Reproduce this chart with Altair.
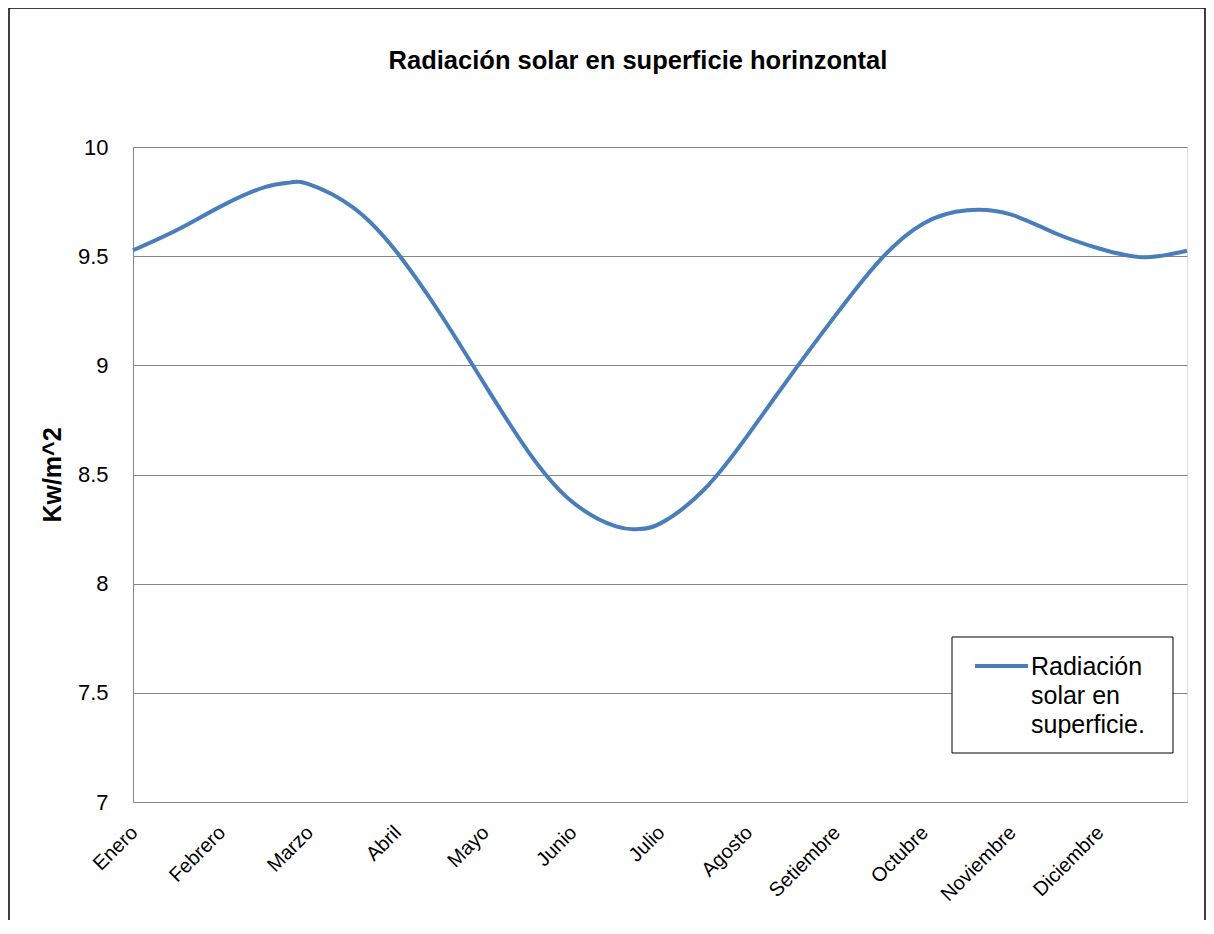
import altair as alt
import pandas as pd

months = ["Enero", "Febrero", "Marzo", "Abril", "Mayo", "Junio", "Julio",
          "Agosto", "Setiembre", "Octubre", "Noviembre", "Diciembre"]
pos = [0, 0.5, 1.0, 1.5, 1.8, 2.0, 2.5, 3.0, 3.5, 4.0, 4.5, 5.0, 5.5, 5.75, 6.0,
       6.5, 7.0, 7.5, 8.0, 8.5, 9.0, 9.5, 10.0, 10.5, 11.0, 11.5, 12.0]
rad = [9.527, 9.62, 9.728, 9.816, 9.838, 9.83, 9.725, 9.52, 9.235, 8.915, 8.605, 8.375,
       8.262, 8.25, 8.275, 8.43, 8.68, 8.96, 9.23, 9.48, 9.65, 9.71, 9.69, 9.605,
       9.535, 9.495, 9.525]
legend_lines = ["Radiación", "solar en", "superficie."]
title_text = "Radiación solar en superficie horinzontal"

df = pd.DataFrame({"pos": pos, "rad": rad})
one = pd.DataFrame({"a": [0]})

FONT = "Liberation Sans"
BLUE = "#4a7ebb"
W, H = 1054, 655

label_expr = "[" + ",".join(f"'{m}'" for m in months) + "][datum.value]"

line = alt.Chart(df).mark_line(interpolate="natural", strokeWidth=4, color=BLUE).encode(
    x=alt.X("pos:Q", scale=alt.Scale(domain=[0, 12], nice=False, zero=False),
            axis=alt.Axis(values=list(range(12)), labelExpr=label_expr, labelAngle=-45,
                          labelAlign="right", labelBaseline="top", labelFontSize=20,
                          labelPadding=20, labelOffset=-6, ticks=False, grid=False,
                          domain=True, domainColor="#868686", title=None,
                          labelColor="#000000", labelFont=FONT, labelOverlap=False)),
    y=alt.Y("rad:Q", scale=alt.Scale(domain=[7, 10], nice=False, zero=False),
            axis=alt.Axis(values=[7, 7.5, 8, 8.5, 9, 9.5, 10], labelExpr="datum.value",
                          title="Kw/m^2", titleFontSize=25, titleFontWeight="bold",
                          titleFont=FONT, titleColor="#000000", titleX=-81, titleY=H / 2,
                          titleBaseline="middle", titleAlign="center",
                          labelFontSize=22, labelFont=FONT, labelColor="#000000",
                          labelPadding=25, ticks=False, grid=True, gridColor="#868686",
                          gridWidth=1, domain=True, domainColor="#868686")),
)

border = alt.Chart(one).mark_rect(fill=None, stroke="#000000", strokeWidth=1.5).encode(
    x=alt.value(-124), x2=alt.value(W + 18), y=alt.value(-139), y2=alt.value(H + 200))

title = alt.Chart(one).mark_text(text=title_text, font=FONT, fontSize=25.5, fontWeight="bold",
                                 color="#000000", align="center", baseline="alphabetic").encode(
    x=alt.value(505), y=alt.value(-78))

legend_box = alt.Chart(one).mark_rect(fill="#ffffff", stroke="#000000", strokeWidth=1).encode(
    x=alt.value(819), x2=alt.value(1040), y=alt.value(490), y2=alt.value(606))

legend_sym = alt.Chart(one).mark_rule(color=BLUE, strokeWidth=4).encode(
    x=alt.value(842), x2=alt.value(895), y=alt.value(519))

legend_txt = [
    alt.Chart(one).mark_text(text=t, font=FONT, fontSize=25, color="#000000",
                             align="left", baseline="alphabetic").encode(
        x=alt.value(898), y=alt.value(528 + 29 * i))
    for i, t in enumerate(legend_lines)
]

chart = alt.layer(border, title, line, legend_box, legend_sym, *legend_txt).properties(
    width=W, height=H,
    padding={"left": 125, "top": 139, "right": 19, "bottom": 118},
    autosize=alt.AutoSizeParams(type="none"),
).configure_view(stroke=None).configure(background="#ffffff")

chart.save("out.html", embed_options={"renderer": "svg", "actions": False})
